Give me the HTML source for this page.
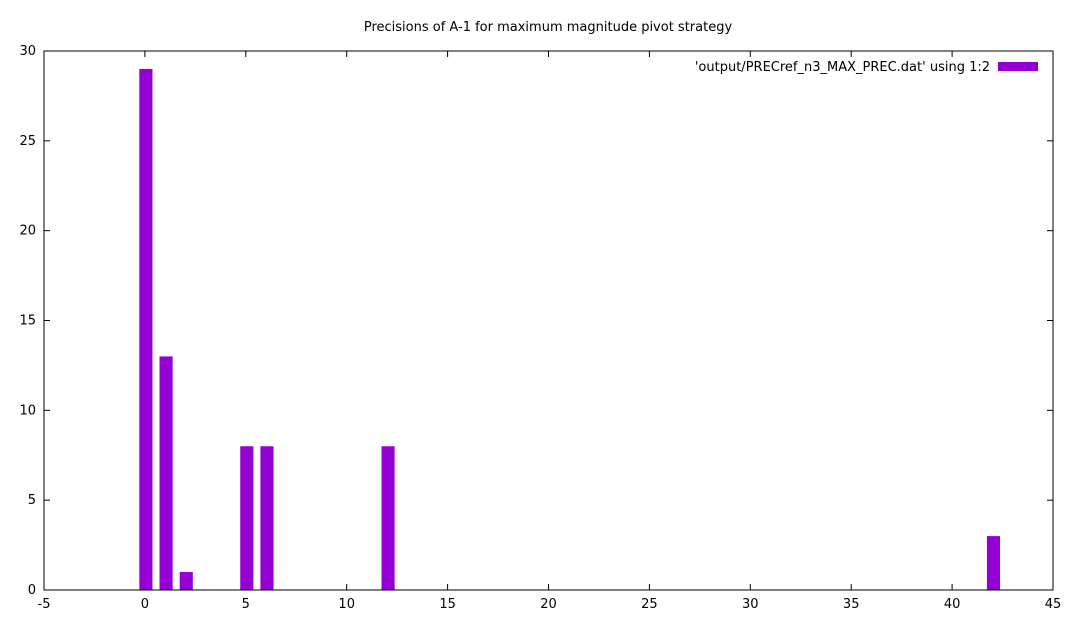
<!DOCTYPE html>
<html><head><meta charset="utf-8">
<style>
html,body{margin:0;padding:0;background:#fff;}
svg{display:block;font-family:"DejaVu Sans","Liberation Sans",sans-serif;font-size:13px;}
</style></head>
<body>
<svg id="chart" width="1077" height="624" viewBox="0 0 1077 624">
<text x="548" y="31" text-anchor="middle">Precisions of A-1 for maximum magnitude pivot strategy</text>
<g id="axes"></g>
<g id="bars"></g>
<rect x="44" y="51" width="1009" height="539" fill="none" stroke="#000" stroke-width="1"/>
<text x="990" y="71" text-anchor="end">'output/PRECref_n3_MAX_PREC.dat' using 1:2</text>
<rect x="998" y="62" width="40" height="9" fill="#9400d3"/>
</svg>
<script>
const categories = [0, 1, 2, 5, 6, 12, 42];
const counts = [29, 13, 1, 8, 8, 8, 3];
const xTicks = [-5, 0, 5, 10, 15, 20, 25, 30, 35, 40, 45];
const yTicks = [0, 5, 10, 15, 20, 25, 30];
const NS = "http://www.w3.org/2000/svg";
const L = 44, R = 1053, T = 51, B = 590;
const xMin = -5, xMax = 45, yMin = 0, yMax = 30;
function xs(v){ return L + (v - xMin) / (xMax - xMin) * (R - L); }
function ys(v){ return B - (v - yMin) / (yMax - yMin) * (B - T); }
const axes = document.getElementById('axes');
const bars = document.getElementById('bars');
function mk(tag, attrs, parent){ const e = document.createElementNS(NS, tag); for (const k in attrs) e.setAttribute(k, attrs[k]); parent.appendChild(e); return e; }
xTicks.forEach(t => {
  const x = xs(t);
  const l1 = mk('line', {x1:x, x2:x, y1:B, y2:B-6, stroke:'#000'}, axes);
  
  
  mk('line', {x1:x, x2:x, y1:T, y2:T+6, stroke:'#000'}, axes);
  const tx = mk('text', {x:x, y:B+18, 'text-anchor':'middle'}, axes);
  tx.textContent = t;
  
  
});
yTicks.forEach(t => {
  const y = ys(t);
  const l1 = mk('line', {x1:L, x2:L+6, y1:y, y2:y, stroke:'#000'}, axes);
  
  
  mk('line', {x1:R, x2:R-6, y1:y, y2:y, stroke:'#000'}, axes);
  const tx = mk('text', {x:L-8, y:y+4, 'text-anchor':'end'}, axes);
  tx.textContent = t;
  
  
});
const bw = 0.65;
categories.forEach((c, i) => {
  const x0 = xs(c - bw/2) + 1, x1 = xs(c + bw/2) + 1;
  const r = mk('rect', {x:x0, y:ys(counts[i]), width:x1-x0, height:B-ys(counts[i]), fill:'#9400d3'}, bars);
  
  
});
</script>
</body></html>
